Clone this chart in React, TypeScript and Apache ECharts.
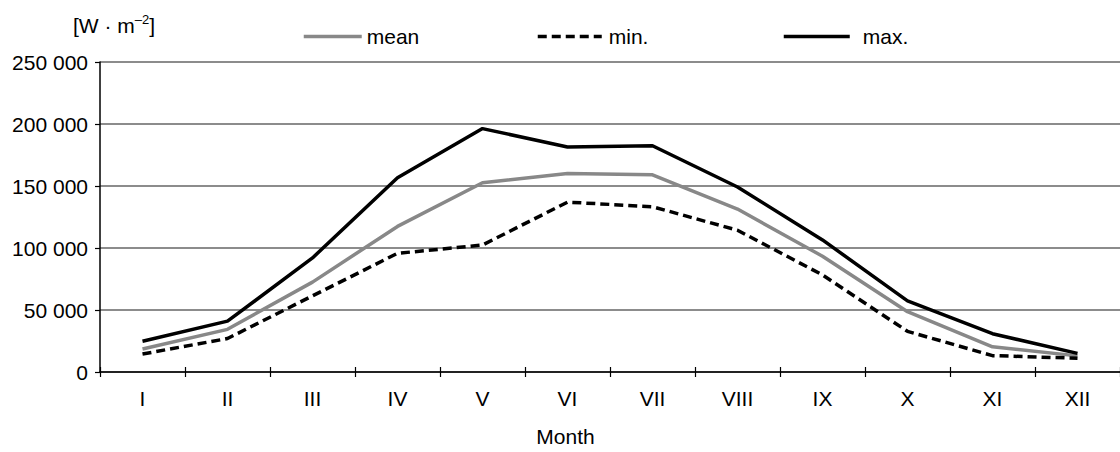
import React, { useEffect, useRef } from "react";
import * as echarts from "echarts";

const months = ["I", "II", "III", "IV", "V", "VI", "VII", "VIII", "IX", "X", "XI", "XII"];
const meanValues = [18500, 34400, 72500, 117400, 152600, 160000, 159000, 131400, 93400, 48600, 20300, 13000];
const minValues = [14500, 27000, 61400, 95700, 102400, 137000, 133300, 114300, 78300, 32800, 13200, 11100];
const maxValues = [24800, 41000, 92000, 156600, 196300, 181400, 182500, 149200, 106500, 57400, 30900, 15000];
const seriesNames = ["mean", "min.", "max."];
const unitLabel = "{a|[W · m}{s|–2}{a|]}";
const xAxisTitle = "Month";

const FONT = "'Liberation Sans', Arial, sans-serif";
const FS = 21;

export default function App() {
  const ref = useRef<HTMLDivElement>(null);
  useEffect(() => {
    document.body.style.margin = "0";
    if (!ref.current) return;
    const chart = echarts.init(ref.current, null, { renderer: "svg" });
    const fmt = (v: number) => (v === 0 ? "0" : `${v / 1000} 000`);
    const legendBase = {
      top: 26,
      padding: 0,
      itemHeight: 4,
      selectedMode: false,
      itemStyle: { opacity: 0 },
    };
    const legendText = { fontSize: FS, color: "#000", fontFamily: FONT };
    chart.setOption({
      animation: false,
      textStyle: { fontFamily: FONT },
      grid: { left: 100, top: 62, width: 1033, height: 315 },
      legend: [
        { ...legendBase, left: 302, itemWidth: 58, data: [seriesNames[0]], lineStyle: { width: 3.5 }, textStyle: { ...legendText } },
        { ...legendBase, left: 536, itemWidth: 64, data: [seriesNames[1]], lineStyle: { width: 3.5, type: [9, 5] }, textStyle: { ...legendText, padding: [0, 0, 0, 2] } },
        { ...legendBase, left: 782, itemWidth: 66, data: [seriesNames[2]], lineStyle: { width: 3.5 }, textStyle: { ...legendText, padding: [0, 0, 0, 8] } },
      ],
      graphic: [
        {
          type: "text",
          left: 73,
          top: 13,
          style: {
            text: unitLabel,
            rich: {
              a: { fontSize: FS, fontFamily: FONT, fill: "#000", lineHeight: 24 },
              s: { fontSize: 13, fontFamily: FONT, fill: "#000", verticalAlign: "top", lineHeight: 24 },
            },
          },
        },
      ],
      xAxis: [
        {
          type: "category",
          data: months,
          boundaryGap: true,
          axisLine: { show: true, lineStyle: { color: "#000", width: 1.5 } },
          axisTick: { show: true, interval: 0, length: 5, lineStyle: { color: "#000", width: 1.2 } },
          axisLabel: { interval: 0, margin: 16, fontSize: FS, color: "#000", fontFamily: FONT },
          name: xAxisTitle,
          nameLocation: "middle",
          nameGap: 54,
          nameTextStyle: { fontSize: FS, color: "#000", fontFamily: FONT, padding: [0, 89, 0, 0], verticalAlign: "top" },
          splitLine: { show: false },
        },
        {
          type: "category",
          data: months,
          position: "bottom",
          boundaryGap: true,
          axisLine: { show: false },
          axisTick: { show: true, inside: true, interval: 0, length: 5, lineStyle: { color: "#000", width: 1.2 } },
          axisLabel: { show: false },
          splitLine: { show: false },
        },
      ],
      yAxis: {
        type: "value",
        min: 0,
        max: 250000,
        interval: 50000,
        axisLine: { show: true, lineStyle: { color: "#000", width: 1.5 } },
        axisTick: { show: true, length: 5, lineStyle: { color: "#000", width: 1.2 } },
        axisLabel: { formatter: fmt, margin: 12, fontSize: FS, color: "#000", fontFamily: FONT },
        splitLine: { show: true, lineStyle: { color: "#8c8c8c", width: 2 } },
      },
      series: [
        {
          name: seriesNames[0],
          type: "line",
          data: meanValues,
          symbol: "none",
          lineStyle: { color: "#888888", width: 3.5 },
          itemStyle: { color: "#888888" },
          z: 2,
        },
        {
          name: seriesNames[1],
          type: "line",
          data: minValues,
          symbol: "none",
          lineStyle: { color: "#000", width: 3.5, type: [9, 5] },
          itemStyle: { color: "#000" },
          z: 3,
        },
        {
          name: seriesNames[2],
          type: "line",
          data: maxValues,
          symbol: "none",
          lineStyle: { color: "#000", width: 3.5 },
          itemStyle: { color: "#000" },
          z: 4,
        },
      ],
    });
    return () => chart.dispose();
  }, []);
  return <div ref={ref} style={{ width: 1120, height: 452 }} />;
}
